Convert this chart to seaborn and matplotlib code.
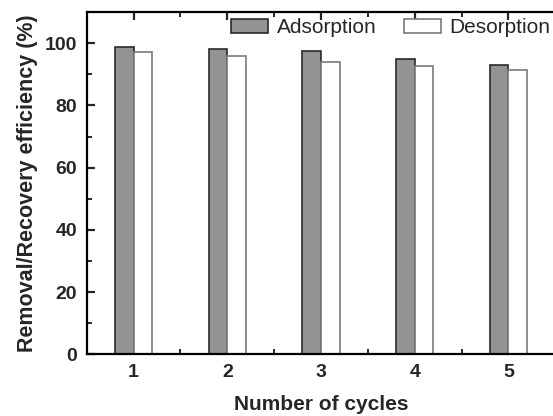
import matplotlib
matplotlib.use("Agg")
import matplotlib.pyplot as plt
import seaborn as sns
import pandas as pd
from matplotlib.ticker import MultipleLocator, FixedLocator

cycles = ["1", "2", "3", "4", "5"]
adsorption = [98.7, 98.1, 97.4, 94.9, 92.9]
desorption = [97.3, 96.0, 94.0, 92.6, 91.3]
series = ["Adsorption", "Desorption"]

df = pd.DataFrame({
    "cycle": cycles * 2,
    "value": adsorption + desorption,
    "series": [series[0]] * len(cycles) + [series[1]] * len(cycles),
})

sns.set_style("ticks")
plt.rcParams["font.family"] = ["Liberation Sans", "DejaVu Sans"]

fig = plt.figure(figsize=(5.53, 4.16), dpi=100)
ax = fig.add_axes([0.157, 0.148, 0.847, 0.823])

sns.barplot(data=df, x="cycle", y="value", hue="series", order=cycles,
            hue_order=series, palette={"Adsorption": "#939393", "Desorption": "white"},
            width=0.4, ax=ax, legend=False, errorbar=None)

edge_cols = ["#2a2a2a", "#7a7a7a"]
for cont, ec in zip(ax.containers, edge_cols):
    for p in cont:
        p.set_edgecolor(ec)
        p.set_linewidth(1.2)

ax.set_xlim(-0.5, 4.5)
ax.set_ylim(0, 110)
ax.yaxis.set_major_locator(MultipleLocator(20))
ax.yaxis.set_minor_locator(MultipleLocator(10))
ax.xaxis.set_minor_locator(FixedLocator([0.5, 1.5, 2.5, 3.5]))

ax.set_xlabel("Number of cycles", fontsize=15, fontweight="bold", labelpad=10)
ax.set_ylabel("Removal/Recovery efficiency (%)", fontsize=15.5, fontweight="bold", labelpad=5)

for s in ["left", "bottom", "top", "right"]:
    ax.spines[s].set_linewidth(1.6)
    ax.spines[s].set_color("black")

ax.tick_params(axis="both", which="major", direction="in", length=6, width=1.6,
               labelsize=14, top=True, pad=7)
ax.tick_params(axis="both", which="minor", direction="in", length=3.5, width=1.4, top=True)
for lab in ax.get_xticklabels() + ax.get_yticklabels():
    lab.set_fontweight("bold")

handles = [ax.containers[0][0], ax.containers[1][0]]
ax.legend(handles, series, ncol=2, frameon=False, loc="upper right",
          bbox_to_anchor=(1.012, 1.012), fontsize=15, handlelength=1.8,
          handleheight=0.65, handletextpad=0.4, columnspacing=1.3,
          borderaxespad=0.1)

fig.savefig("out.png", dpi=100)
